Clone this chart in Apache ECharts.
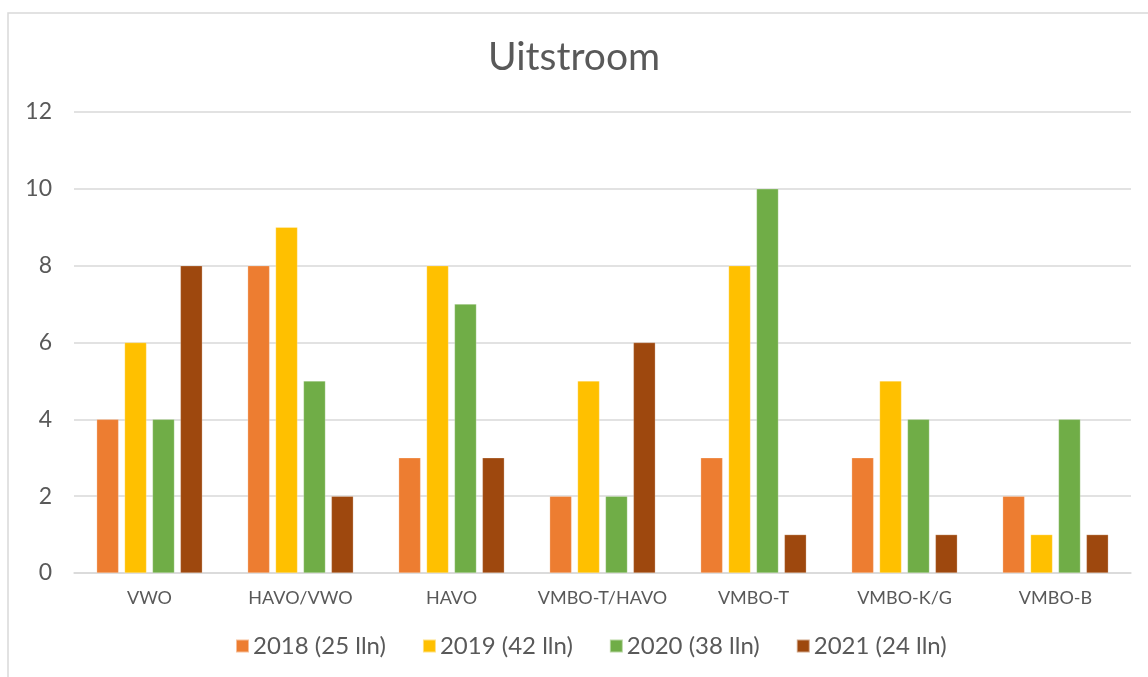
<!DOCTYPE html>
<html>
<head>
<meta charset="utf-8">
<script src="https://cdn.jsdelivr.net/npm/echarts@6/dist/echarts.min.js"></script>
<style>html,body{margin:0;padding:0;background:#fff}#c{width:1148px;height:677px}</style>
</head>
<body>
<div id="c"></div>
<script>
const categories = ['VWO', 'HAVO/VWO', 'HAVO', 'VMBO-T/HAVO', 'VMBO-T', 'VMBO-K/G', 'VMBO-B'];
const seriesNames = ['2018 (25 lln)', '2019 (42 lln)', '2020 (38 lln)', '2021 (24 lln)'];
const v2018 = [4, 8, 3, 2, 3, 3, 2];
const v2019 = [6, 9, 8, 5, 8, 5, 1];
const v2020 = [4, 5, 7, 2, 10, 4, 4];
const v2021 = [8, 2, 3, 6, 1, 1, 1];
const yTicks = [0, 2, 4, 6, 8, 10, 12];
const colors = ['#ED7D31', '#FFC000', '#70AD47', '#9E480E'];

const font = 'Lato, "DejaVu Sans", sans-serif';
const values = [v2018, v2019, v2020, v2021];
const chart = echarts.init(document.getElementById('c'), null, {renderer: 'canvas'});
chart.setOption({
  animation: false,
  backgroundColor: '#fff',
  color: colors,
  title: {
    text: 'Uitstroom', left: 'center', top: 33,
    textStyle: {fontFamily: font, fontSize: 39, fontWeight: 'normal', color: '#595959'}
  },
  graphic: [{
    type: 'rect', shape: {x: 8, y: 13, width: 1160, height: 700},
    style: {fill: 'none', stroke: '#d9d9d9', lineWidth: 1.5}, silent: true
  }],
  legend: {
    data: seriesNames, bottom: 14, left: 230,
    itemWidth: 13, itemHeight: 13, itemGap: 36,
    icon: 'rect',
    textStyle: {fontFamily: font, fontSize: 24, color: '#595959', padding: [0, 0, 0, -1]}
  },
  grid: {left: 74, right: 17, top: 112, bottom: 104, containLabel: false},
  xAxis: {
    type: 'category', data: categories,
    axisLine: {lineStyle: {color: '#d9d9d9', width: 1.5}},
    axisTick: {show: false},
    axisLabel: {interval: 0, fontFamily: font, fontSize: 18, color: '#595959', margin: 16}
  },
  yAxis: {
    type: 'value', min: yTicks[0], max: yTicks[yTicks.length - 1], interval: 2,
    axisLine: {show: false}, axisTick: {show: false},
    axisLabel: {fontFamily: font, fontSize: 23, color: '#595959', margin: 22},
    splitLine: {lineStyle: {color: '#d9d9d9', width: 1.5}}
  },
  series: seriesNames.map((n, i) => ({
    name: n, type: 'bar', data: values[i],
    barGap: '27%', barCategoryGap: '30%',
    itemStyle: {color: colors[i], borderColor: 'rgba(255,255,255,0.5)', borderWidth: 0.5}
  }))
});
</script>
</body>
</html>
